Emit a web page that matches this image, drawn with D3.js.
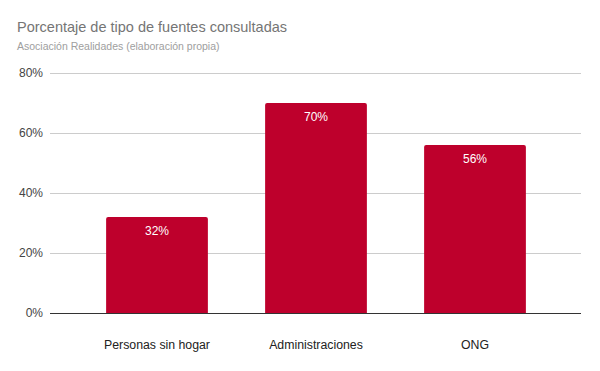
<!DOCTYPE html>
<meta charset="utf-8">
<script src="https://d3js.org/d3.v7.min.js"></script>
<style>
  body { margin: 0; background: #fff; }
  text { font-family: Arial, "Liberation Sans", sans-serif; }
</style>
<div id="chart"></div>
<script>
  // data
  var categories = ["Personas sin hogar", "Administraciones", "ONG"];
  var values = [32, 70, 56];
  var yTicks = [0, 20, 40, 60, 80];

  var width = 600, height = 371;
  var plot = {left: 50, right: 581, top: 73, bottom: 313};

  var svg = d3.select("#chart").append("svg")
    .attr("width", width)
    .attr("height", height);

  svg.append("rect").attr("width", width).attr("height", height).attr("fill", "#fff");

  svg.append("text")
    .attr("x", 17).attr("y", 32)
    .attr("font-size", 14.5)
    .attr("fill", "#757575")
    .text("Porcentaje de tipo de fuentes consultadas");

  svg.append("text")
    .attr("x", 17).attr("y", 50)
    .attr("font-size", 10.5)
    .attr("fill", "#9e9e9e")
    .text("Asociación Realidades (elaboración propia)");

  var y = d3.scaleLinear().domain([0, 80]).range([plot.bottom, plot.top]);
  var x = d3.scaleBand().domain(categories).range([77.5, 554.5]).paddingInner(0.36).paddingOuter(0.18);

  // gridlines
  svg.append("g")
    .selectAll("line")
    .data(yTicks.filter(function(d) { return d > 0; }))
    .enter().append("line")
    .attr("x1", plot.left).attr("x2", plot.right)
    .attr("y1", function(d) { return Math.round(y(d)) + 0.5; })
    .attr("y2", function(d) { return Math.round(y(d)) + 0.5; })
    .attr("stroke", "#cccccc");

  // y labels
  svg.append("g")
    .selectAll("text")
    .data(yTicks)
    .enter().append("text")
    .attr("x", 43)
    .attr("y", function(d) { return y(d) + 4; })
    .attr("text-anchor", "end")
    .attr("font-size", 12)
    .attr("fill", "#444")
    .text(function(d) { return d + "%"; });

  // bars with small rounded top corners
  var r = 2;
  svg.append("g")
    .selectAll("path")
    .data(values)
    .enter().append("path")
    .attr("fill", "#be002c")
    .attr("d", function(d, i) {
      var x0 = x(categories[i]), w = x.bandwidth();
      var y0 = y(d), y1 = y(0);
      return "M" + x0 + "," + y1 +
        "V" + (y0 + r) +
        "Q" + x0 + "," + y0 + " " + (x0 + r) + "," + y0 +
        "H" + (x0 + w - r) +
        "Q" + (x0 + w) + "," + y0 + " " + (x0 + w) + "," + (y0 + r) +
        "V" + y1 + "Z";
    });

  // value labels
  svg.append("g")
    .selectAll("text")
    .data(values)
    .enter().append("text")
    .attr("x", function(d, i) { return x(categories[i]) + x.bandwidth() / 2; })
    .attr("y", function(d) { return y(d) + 17.5; })
    .attr("text-anchor", "middle")
    .attr("font-size", 12)
    .attr("fill", "#fff")
    .text(function(d) { return d + "%"; });

  // baseline
  svg.append("line")
    .attr("x1", plot.left).attr("x2", plot.right)
    .attr("y1", y(0) + 0.5).attr("y2", y(0) + 0.5)
    .attr("stroke", "#333");

  // category labels
  svg.append("g")
    .selectAll("text")
    .data(categories)
    .enter().append("text")
    .attr("x", function(d) { return x(d) + x.bandwidth() / 2; })
    .attr("y", 349)
    .attr("text-anchor", "middle")
    .attr("font-size", 12.3)
    .attr("fill", "#222")
    .text(function(d) { return d; });
</script>
